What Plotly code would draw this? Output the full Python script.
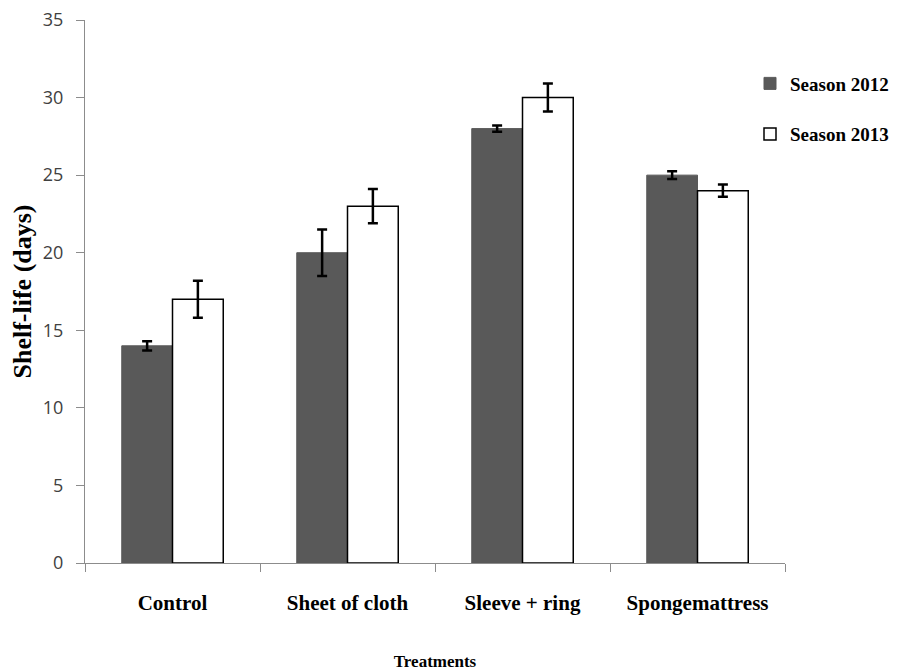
import plotly.graph_objects as go

categories = ["Control", "Sheet of cloth", "Sleeve + ring", "Spongemattress"]
season_2012 = [14, 20, 28, 25]
season_2012_err = [0.3, 1.5, 0.2, 0.25]
season_2013 = [17, 23, 30, 24]
season_2013_err = [1.2, 1.1, 0.9, 0.4]
y_ticks = [0, 5, 10, 15, 20, 25, 30, 35]

serif = "Liberation Serif"

fig = go.Figure()
fig.add_trace(go.Bar(
    x=categories, y=season_2012, name="<b>Season 2012</b>",
    marker=dict(color="#595959", line=dict(color="#595959", width=1)),
    error_y=dict(type="data", array=season_2012_err, color="black", thickness=2.5, width=5),
    legendgroup="a",
))
fig.add_trace(go.Bar(
    x=categories, y=season_2013, name="<b>Season 2013</b>",
    marker=dict(color="white", line=dict(color="black", width=1.5)),
    error_y=dict(type="data", array=season_2013_err, color="black", thickness=2.5, width=5),
    legendgroup="b",
))

fig.update_layout(
    width=902, height=672,
    margin=dict(l=77, r=125, t=12, b=117, autoexpand=False),
    paper_bgcolor="white", plot_bgcolor="white",
    barmode="group", bargap=0.42, bargroupgap=0,
    showlegend=True,
    legend=dict(x=0.95, y=0.918, xanchor="left", yanchor="top",
                font=dict(family=serif, size=19, color="black"),
                tracegroupgap=23, itemwidth=30),
    xaxis=dict(
        showline=True, linecolor="#8c8c8c", linewidth=1,
        ticks="outside", tickson="boundaries", ticklen=8, tickcolor="#8c8c8c",
        tickfont=dict(family=serif, size=21, color="black"),
        tickvals=categories,
        ticktext=["<b>%s</b>" % c for c in categories],
        ticklabelstandoff=21,
        title=dict(text="<b>Treatments</b>", font=dict(family=serif, size=17, color="black"), standoff=40),
    ),
    yaxis=dict(
        range=[0, 35.0001], tickvals=y_ticks,
        showline=True, linecolor="#8c8c8c", linewidth=1,
        ticks="outside", ticklen=8, tickcolor="#8c8c8c",
        showgrid=False, zeroline=False,
        tickfont=dict(family="Open Sans", size=18, color="#404040"),
        ticklabelstandoff=9, ticklabeloverflow="allow",
        title=dict(text="<b>Shelf-life (days)</b>", font=dict(family=serif, size=26, color="black"), standoff=9),
    ),
)

fig.write_html("out.html")
